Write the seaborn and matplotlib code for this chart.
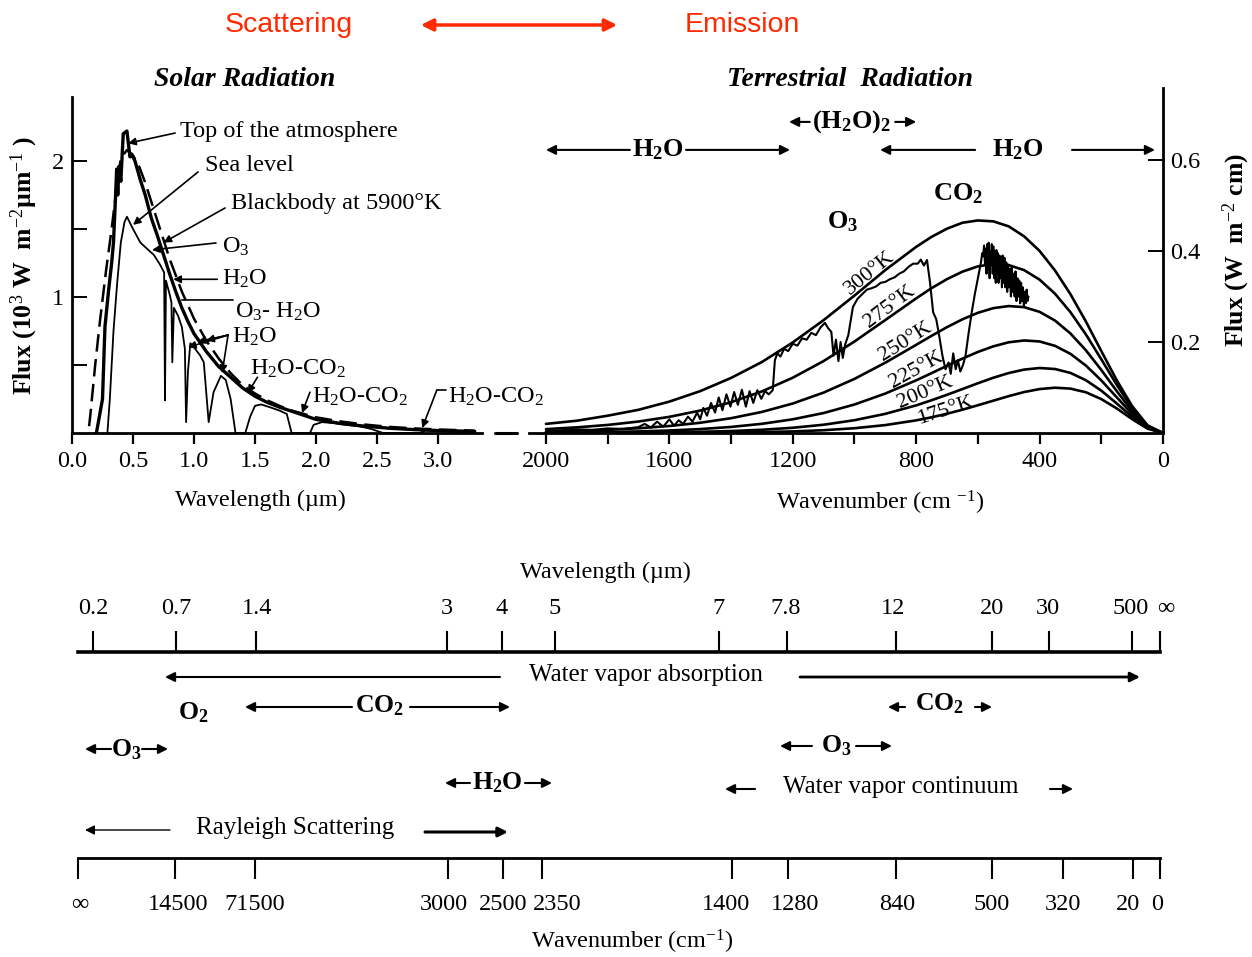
import matplotlib
matplotlib.use("Agg")
import matplotlib.pyplot as plt
import seaborn as sns
from matplotlib.patches import FancyArrowPatch
from matplotlib.ticker import FixedLocator

# ---------------- data: solar panel (wavelength in um, flux in 10^3 W m-2 um-1)
bb_wl = [0.14, 0.15, 0.19, 0.23, 0.28, 0.325, 0.365, 0.40, 0.45, 0.50, 0.55, 0.60, 0.70, 0.80, 0.90,
         1.00, 1.10, 1.20, 1.30, 1.40, 1.50, 1.60, 1.70, 1.80, 1.90, 2.00, 2.20, 2.40, 2.60, 2.80, 3.00, 3.30]
bb_flux = [0.05, 0.13, 0.50, 0.83, 1.20, 1.50, 1.80, 2.02, 2.08, 2.04, 1.96, 1.84, 1.56, 1.28, 1.04,
           0.84, 0.68, 0.55, 0.44, 0.35, 0.29, 0.24, 0.20, 0.165, 0.14, 0.115, 0.085, 0.062, 0.045, 0.034, 0.026, 0.017]

toa_wl = [0.20, 0.25, 0.27, 0.30, 0.325, 0.34, 0.355, 0.366, 0.375, 0.385, 0.40, 0.42, 0.45, 0.475,
          0.49, 0.516, 0.56, 0.60, 0.65, 0.70, 0.75, 0.80, 0.85, 0.90, 0.95, 1.00, 1.10, 1.20, 1.30,
          1.40, 1.50, 1.60, 1.70, 1.80, 1.90, 2.00, 2.20, 2.40, 2.60, 2.80, 3.00, 3.30]
toa_flux = [0.0, 0.25, 0.78, 1.05, 1.25, 1.40, 1.70, 1.94, 1.75, 1.96, 1.85, 2.20, 2.22, 2.03,
            2.05, 2.00, 1.86, 1.75, 1.58, 1.45, 1.31, 1.17, 1.04, 0.92, 0.82, 0.73, 0.60, 0.49, 0.41,
            0.33, 0.27, 0.225, 0.19, 0.16, 0.13, 0.10, 0.07, 0.05, 0.035, 0.025, 0.018, 0.012]

sea_wl = [0.29, 0.31, 0.34, 0.37, 0.40, 0.43, 0.45, 0.50, 0.56, 0.62, 0.67, 0.72, 0.755, 0.762, 0.77,
          0.80, 0.815, 0.822, 0.835, 0.87, 0.90, 0.925, 0.935, 0.95, 0.97, 1.00, 1.05, 1.08, 1.12, 1.16,
          1.22, 1.26, 1.30, 1.34, 1.42, 1.46, 1.50, 1.55, 1.62, 1.70, 1.76, 1.80, 1.95, 1.98, 2.05,
          2.15, 2.25, 2.35, 2.45, 2.55, 2.85, 2.90, 3.00, 3.20]
sea_flux = [0.0, 0.25, 0.75, 1.10, 1.40, 1.55, 1.59, 1.50, 1.40, 1.35, 1.31, 1.24, 1.18, 0.24, 1.12,
            1.02, 0.96, 0.52, 0.92, 0.86, 0.78, 0.62, 0.08, 0.45, 0.66, 0.63, 0.57, 0.52, 0.08, 0.30,
            0.42, 0.39, 0.25, 0.0, 0.0, 0.12, 0.20, 0.21, 0.19, 0.165, 0.14, 0.0, 0.0, 0.06, 0.08,
            0.072, 0.06, 0.05, 0.03, 0.0, 0.0, 0.02, 0.015, 0.005]

solar_ticks = [0.0, 0.5, 1.0, 1.5, 2.0, 2.5, 3.0]
solar_tick_labels = ["0.0", "0.5", "1.0", "1.5", "2.0", "2.5", "3.0"]

# ---------------- data: terrestrial panel (wavenumber cm-1, flux W m-2 cm)
wn_grid = [0, 50, 100, 150, 200, 250, 300, 350, 400, 450, 500, 550, 600, 650, 700, 750, 800,
           900, 1000, 1100, 1200, 1300, 1400, 1500, 1600, 1700, 1800, 1900, 2000]
bb_300 = [0, 0.0167, 0.059, 0.116, 0.180, 0.245, 0.305, 0.357, 0.400, 0.432, 0.454, 0.465, 0.467, 0.462,
          0.449, 0.431, 0.409, 0.358, 0.302, 0.248, 0.199, 0.156, 0.121, 0.092, 0.069, 0.051, 0.038, 0.027, 0.020]
bb_275 = [0, 0.0156, 0.0544, 0.1060, 0.1620, 0.2166, 0.2655, 0.3060, 0.3369, 0.3578, 0.3689, 0.3712, 0.3661,
          0.3545, 0.3381, 0.3183, 0.2958, 0.2482, 0.2010, 0.1581, 0.1215, 0.0914, 0.0676, 0.0493, 0.0355,
          0.0252, 0.0177, 0.0124, 0.0085]
bb_250 = [0, 0.0140, 0.0481, 0.0921, 0.1385, 0.1818, 0.2186, 0.2470, 0.2662, 0.2765, 0.2789, 0.2743, 0.2641,
          0.2498, 0.2326, 0.2136, 0.1937, 0.1545, 0.1189, 0.0888, 0.0648, 0.0463, 0.0325, 0.0225, 0.0154,
          0.0104, 0.0069, 0.0046, 0.0030]
bb_225 = [0, 0.0124, 0.0418, 0.0785, 0.1155, 0.1482, 0.1739, 0.1915, 0.2011, 0.2033, 0.1993, 0.1904, 0.1781,
          0.1635, 0.1477, 0.1316, 0.1157, 0.0867, 0.0626, 0.0439, 0.0301, 0.0202, 0.0133, 0.0086, 0.0055,
          0.0035, 0.0022, 0.0014, 0.0009]
bb_200 = [0, 0.0108, 0.0355, 0.0650, 0.0931, 0.1160, 0.1320, 0.1406, 0.1428, 0.1393, 0.1318, 0.1214, 0.1093,
          0.0966, 0.0840, 0.0720, 0.0607, 0.0421, 0.0281, 0.0182, 0.0115, 0.0071, 0.0043, 0.0026, 0.0015,
          0.0009, 0.0005, 0.0003, 0.0002]
bb_175 = [0, 0.0095, 0.0305, 0.0540, 0.0745, 0.0895, 0.0975, 0.0995, 0.0965, 0.0900, 0.0810, 0.0710, 0.0610,
          0.0512, 0.0424, 0.0345, 0.0278, 0.0174, 0.0105, 0.0061, 0.0035, 0.0020, 0.0010, 0.0005, 0.0003,
          0.0002, 0.0001, 0.0, 0.0]
temp_labels = ["300°K", "275°K", "250°K", "225°K", "200°K", "175°K"]

spec_wn = [2000, 1950, 1900, 1850, 1800, 1750, 1700, 1680, 1660, 1640, 1620, 1600, 1585, 1570, 1555, 1540,
           1525, 1510, 1500, 1490, 1478, 1465, 1452, 1440, 1428, 1415, 1402, 1390, 1378, 1365, 1352, 1340,
           1328, 1315, 1302, 1290, 1278, 1265, 1258, 1250, 1240, 1228, 1215, 1200, 1185, 1170, 1155, 1140,
           1125, 1110, 1096, 1085, 1075, 1068, 1060, 1052, 1045, 1038, 1030, 1020, 1005, 990, 975, 960, 945,
           930, 915, 900, 885, 870, 855, 840, 825, 810, 795, 785, 775, 765, 755, 745, 735, 725, 715, 705,
           695, 688, 680, 672, 665, 657, 648, 640, 630, 620, 610, 600,
           590, 586, 583, 580, 577, 575, 572, 570, 567, 565, 562, 560, 558, 555, 552, 550, 547, 545, 542,
           540, 537, 535, 533, 530, 527, 525, 522, 520, 517, 514, 511, 508, 505, 502, 499, 496, 493, 490,
           487, 484, 481, 478, 475, 472, 469, 466, 463, 460, 457, 454, 451, 448, 445, 442, 439, 436]
spec_flux = [0.004, 0.006, 0.008, 0.007, 0.010, 0.009, 0.013, 0.020, 0.012, 0.025, 0.014, 0.030, 0.016, 0.028,
             0.020, 0.036, 0.025, 0.045, 0.030, 0.055, 0.038, 0.066, 0.045, 0.078, 0.050, 0.085, 0.058, 0.090,
             0.062, 0.095, 0.058, 0.092, 0.066, 0.094, 0.075, 0.092, 0.085, 0.094, 0.160, 0.175, 0.168, 0.185,
             0.180, 0.196, 0.192, 0.208, 0.205, 0.220, 0.215, 0.232, 0.242, 0.230, 0.222, 0.170, 0.205, 0.158,
             0.200, 0.165, 0.195, 0.215, 0.277, 0.295, 0.305, 0.315, 0.318, 0.322, 0.330, 0.332, 0.338, 0.342,
             0.350, 0.355, 0.365, 0.372, 0.372, 0.381, 0.368, 0.380, 0.330, 0.265, 0.250, 0.212, 0.170, 0.140,
             0.155, 0.130, 0.175, 0.140, 0.160, 0.135, 0.150, 0.170, 0.220, 0.265, 0.305, 0.340,
             0.375, 0.395, 0.388, 0.412, 0.370, 0.405, 0.350, 0.415, 0.360, 0.418, 0.340, 0.400, 0.370, 0.415,
             0.350, 0.410, 0.340, 0.400, 0.330, 0.402, 0.350, 0.395, 0.330, 0.390, 0.340, 0.385, 0.320, 0.390,
             0.330, 0.385, 0.320, 0.375, 0.310, 0.370, 0.320, 0.360, 0.300, 0.365, 0.310, 0.350, 0.300, 0.355,
             0.290, 0.340, 0.300, 0.335, 0.285, 0.330, 0.290, 0.320, 0.280, 0.310, 0.285, 0.315, 0.290, 0.300]

terr_major = [2000, 1600, 1200, 800, 400, 0]
terr_minor = [1800, 1400, 1000, 600, 200]
terr_y_ticks = [0.2, 0.4, 0.6]

# ---------------- data: band schematic
wl_labels = ["0.2", "0.7", "1.4", "3", "4", "5", "7", "7.8", "12", "20", "30", "500", "∞"]
wn_labels = ["∞", "14500", "71500", "3000", "2500", "2350", "1400", "1280", "840", "500", "320", "20", "0"]

# ---------------- layout / style
sns.set_theme(style="ticks", rc={"axes.edgecolor": "black", "xtick.color": "black",
                                 "ytick.color": "black", "text.color": "black"})
plt.rcParams["font.family"] = ["Liberation Serif", "DejaVu Serif"]
plt.rcParams["mathtext.fontset"] = "custom"
plt.rcParams["mathtext.rm"] = "Liberation Serif"
plt.rcParams["mathtext.it"] = "Liberation Serif:italic"
plt.rcParams["mathtext.bf"] = "Liberation Serif:bold"

W, H = 1252, 957
fig = plt.figure(figsize=(W / 100, H / 100), dpi=100)
fig.patch.set_facecolor("white")


def box(x0, y0, x1, y1):
    return [x0 / W, 1 - y1 / H, (x1 - x0) / W, (y1 - y0) / H]


FS = 17.5
axL = fig.add_axes(box(72, 97, 482, 433))
axR = fig.add_axes(box(529, 88, 1163, 433))
axB = fig.add_axes(box(78, 652, 1160, 858))
for a in (axL, axR, axB):
    a.set_facecolor("none")

# ---------------- solar panel
sns.lineplot(x=bb_wl, y=bb_flux, ax=axL, color="black", lw=1.8, linestyle=(0, (7, 3)),
             estimator=None, sort=False)
sns.lineplot(x=toa_wl, y=toa_flux, ax=axL, color="black", lw=2.4, estimator=None, sort=False)
sns.lineplot(x=sea_wl, y=sea_flux, ax=axL, color="black", lw=1.3, estimator=None, sort=False)
axL.set_xlim(0, 3.36)
axL.set_ylim(0, 2.47)
axL.set_xlabel("")
axL.set_ylabel("")
axL.spines[["top", "right"]].set_visible(False)
axL.spines[["left", "bottom"]].set_linewidth(2.0)
axL.set_xticks(solar_ticks, labels=solar_tick_labels)
axL.set_yticks([1, 2], labels=["1", "2"])
axL.yaxis.set_minor_locator(FixedLocator([0.5, 1.5]))
axL.tick_params(axis="x", direction="out", length=8, width=1.6, labelsize=FS, pad=5)
axL.tick_params(axis="y", which="both", direction="in", length=11, width=1.4, labelsize=FS, pad=6)
axL.plot([3.47, 3.65], [0, 0], color="black", lw=2.2, clip_on=False)
axL.text(-0.117, 0.5, r"Flux (10$^{3}$ W  m$^{-2}$µm$^{-1}$ )", transform=axL.transAxes,
         rotation=90, ha="center", va="center", fontsize=18.5, fontweight="bold")
axL.text(0.4585, -0.2, "Wavelength (µm)", transform=axL.transAxes, ha="center", va="center", fontsize=FS)

ann = dict(fontsize=FS, ha="left", va="center")
arw = dict(arrowstyle="-|>", color="black", lw=1.2, mutation_scale=11, shrinkA=0, shrinkB=0)
ln = dict(arrowstyle="-", color="black", lw=1.2, shrinkA=0, shrinkB=0)
axL.text(0.885, 2.22, "Top of the atmosphere", **ann)
axL.annotate("", xy=(0.46, 2.13), xytext=(0.845, 2.205), arrowprops=arw)
axL.text(1.09, 1.97, "Sea level", **ann)
axL.annotate("", xy=(0.50, 1.53), xytext=(1.033, 1.919), arrowprops=arw)
axL.text(1.303, 1.69, "Blackbody at 5900°K", **ann)
axL.annotate("", xy=(0.75, 1.40), xytext=(1.254, 1.654), arrowprops=arw)
axL.text(1.23, 1.37, r"O$_{3}$", **ann)
axL.annotate("", xy=(0.656, 1.346), xytext=(1.18, 1.397), arrowprops=arw)
axL.text(1.23, 1.13, r"H$_{2}$O", **ann)
axL.annotate("", xy=(0.83, 1.13), xytext=(1.19, 1.13), arrowprops=arw)
axL.text(1.336, 0.89, r"O$_{3}$- H$_{2}$O", **ann)
axL.annotate("", xy=(0.90, 0.978), xytext=(1.32, 0.978), arrowprops=ln)
axL.text(1.311, 0.706, r"H$_{2}$O", **ann)
for tip in [(0.95, 0.63), (1.03, 0.67), (1.10, 0.68), (1.23, 0.44)]:
    axL.annotate("", xy=tip, xytext=(1.279, 0.72), arrowprops=arw)
axL.text(1.459, 0.47, r"H$_{2}$O-CO$_{2}$", **ann)
axL.annotate("", xy=(1.44, 0.294), xytext=(1.52, 0.41), arrowprops=arw)
axL.text(1.967, 0.265, r"H$_{2}$O-CO$_{2}$", **ann)
axL.annotate("", xy=(1.885, 0.147), xytext=(1.95, 0.30), arrowprops=arw)
axL.text(3.082, 0.265, r"H$_{2}$O-CO$_{2}$", **ann)
axL.plot([3.066, 2.99], [0.316, 0.316], color="black", lw=1.2, clip_on=False)
axL.annotate("", xy=(2.87, 0.037), xytext=(2.99, 0.316), arrowprops=arw)

# ---------------- terrestrial panel
for vals in [bb_300, bb_275, bb_250, bb_225, bb_200, bb_175]:
    sns.lineplot(x=wn_grid, y=vals, ax=axR, color="black", lw=1.9, estimator=None, sort=False)
sns.lineplot(x=spec_wn, y=spec_flux, ax=axR, color="black", lw=1.5, estimator=None, sort=False)
axR.set_xlim(2055, 0)
axR.set_ylim(0, 0.758)
axR.set_xlabel("")
axR.set_ylabel("")
axR.spines[["top", "left"]].set_visible(False)
axR.spines[["right", "bottom"]].set_linewidth(2.0)
axR.yaxis.tick_right()
axR.set_xticks(terr_major, labels=[str(v) for v in terr_major])
axR.xaxis.set_minor_locator(FixedLocator(terr_minor))
axR.set_yticks(terr_y_ticks, labels=[f"{v:.1f}" for v in terr_y_ticks])
axR.tick_params(axis="x", which="both", direction="out", length=8, width=1.6, labelsize=FS, pad=5)
axR.tick_params(axis="y", direction="in", length=11, width=1.4, labelsize=FS, pad=5)
axR.text(1.115, 0.53, r"Flux (W  m$^{-2}$ cm)", transform=axR.transAxes, rotation=90,
         ha="center", va="center", fontsize=18.5, fontweight="bold")
axR.text(0.5536, -0.203, r"Wavenumber (cm $^{-1}$)", transform=axR.transAxes, ha="center",
         va="center", fontsize=FS)

temp_pos = [(950, 0.352, 39), (885, 0.277, 37), (836, 0.200, 32), (800, 0.138, 29), (771, 0.090, 23),
            (706, 0.050, 18)]
for lab, (xw, yf, rot) in zip(temp_labels, temp_pos):
    axR.text(xw, yf, lab, fontsize=16, rotation=rot, rotation_mode="anchor", ha="center", va="center")
bold = dict(fontsize=19, fontweight="bold", ha="center", va="center")
axR.text(1037, 0.464, r"O$_{\mathbf{3}}$", **bold)
axR.text(664, 0.525, r"CO$_{\mathbf{2}}$", **bold)
arw2 = dict(arrowstyle="-|>", color="black", lw=1.5, mutation_scale=14, shrinkA=0, shrinkB=0)
axR.text(1637, 0.622, r"H$_{\mathbf{2}}$O", **bold)
axR.annotate("", xy=(2000, 0.622), xytext=(1728, 0.622), arrowprops=arw2)
axR.annotate("", xy=(1209, 0.622), xytext=(1546, 0.622), arrowprops=arw2)
axR.text(470, 0.622, r"H$_{\mathbf{2}}$O", **bold)
axR.annotate("", xy=(917, 0.622), xytext=(609, 0.622), arrowprops=arw2)
axR.annotate("", xy=(26, 0.622), xytext=(295, 0.622), arrowprops=arw2)
axR.text(1008, 0.6835, r"(H$_{\mathbf{2}}$O)$_{\mathbf{2}}$", **bold)
axR.annotate("", xy=(1212, 0.6835), xytext=(1145, 0.6835), arrowprops=arw2)
axR.annotate("", xy=(800, 0.6835), xytext=(868, 0.6835), arrowprops=arw2)

# ---------------- headings
red = "#ff2a00"
fig.text(289 / W, 1 - 25 / H, "Scattering", color=red, fontsize=20.5, family="Liberation Sans",
         ha="center", va="center")
fig.text(742 / W, 1 - 25 / H, "Emission", color=red, fontsize=20.5, family="Liberation Sans",
         ha="center", va="center")
fig.add_artist(FancyArrowPatch((418 / W, 1 - 25 / H), (620 / W, 1 - 25 / H), transform=fig.transFigure,
                               arrowstyle="<|-|>", mutation_scale=18, lw=2.5, color=red))
fig.text(245 / W, 1 - 80 / H, "Solar Radiation", fontsize=20, fontweight="bold", fontstyle="italic",
         ha="center", va="center")
fig.text(850 / W, 1 - 80 / H, "Terrestrial  Radiation", fontsize=20, fontweight="bold", fontstyle="italic",
         ha="center", va="center")

# ---------------- band schematic (x: 0..100 along the bar, y: pixel rows)
def u(px):
    return (px - 78) / 10.82


top_pos = [u(p) for p in [93, 175.5, 256, 447, 502, 555, 719, 786.5, 896, 992, 1049, 1132, 1160]]
bot_pos = [u(p) for p in [78, 175, 255.5, 448, 503, 542, 732, 787.5, 896, 992, 1063, 1133, 1159.5]]
top_lab_pos = [u(p) for p in [93, 176, 257, 447, 502, 555, 719, 786, 893, 992, 1048, 1131, 1166]]
bot_lab_pos = [u(p) for p in [80, 178, 255, 444, 503, 557, 726, 795, 897, 992, 1063, 1128, 1157]]

axB.set_xlim(0, 100)
axB.set_ylim(858, 652)
axB.spines[["left", "right"]].set_visible(False)
axB.spines["top"].set_linewidth(2.6)
axB.spines["bottom"].set_linewidth(2.0)
axB.set_xticks(bot_pos, labels=[""] * len(bot_pos))
axB.set_yticks([])
axB.tick_params(axis="x", direction="out", length=15, width=1.5, bottom=True, top=False)
axT = axB.twiny()
axT.set_xlim(0, 100)
axT.spines[["left", "right", "bottom", "top"]].set_visible(False)
axT.set_xticks(top_pos, labels=[""] * len(top_pos))
axT.tick_params(axis="x", direction="out", length=15, width=1.5, top=True, bottom=False)
for lab, x in zip(wl_labels, top_lab_pos):
    axB.text(x, 608, lab, fontsize=FS, ha="center", va="center")
for lab, x in zip(wn_labels, bot_lab_pos):
    axB.text(x, 904, lab, fontsize=FS, ha="center", va="center")
fig.text(605 / W, 1 - 572 / H, "Wavelength (µm)", fontsize=FS, ha="center", va="center")
fig.text(632 / W, 1 - 942 / H, r"Wavenumber (cm$^{-1}$)", fontsize=FS, ha="center", va="center")

sarw = dict(arrowstyle="-|>", color="black", lw=1.5, mutation_scale=14, shrinkA=0, shrinkB=0)


def barrow(x0, x1, y, lw=1.5):
    p = dict(sarw)
    p["lw"] = lw
    axB.annotate("", xy=(u(x1), y), xytext=(u(x0), y), arrowprops=p, annotation_clip=False)


reg = dict(fontsize=18, ha="center", va="center")
bld = dict(fontsize=18.5, ha="center", va="center", fontweight="bold")
axB.text(u(646), 675, "Water vapor absorption", **reg)
barrow(500, 165, 677)
barrow(800, 1140, 677, lw=2.0)
axB.text(u(193), 713, r"O$_{\mathbf{2}}$", **bld)
axB.text(u(380), 706, r"CO$_{\mathbf{2}}$", **bld)
barrow(352, 245, 707)
barrow(410, 510, 707)
axB.text(u(126), 750, r"O$_{\mathbf{3}}$", **bld)
barrow(111, 85, 749)
barrow(142, 168, 749)
axB.text(u(497), 783, r"H$_{\mathbf{2}}$O", **bld)
barrow(470, 445, 783)
barrow(525, 552, 783)
axB.text(u(295), 828, "Rayleigh Scattering", **reg)
barrow(170, 85, 830, lw=1.0)
barrow(425, 508, 832, lw=2.2)
axB.text(u(940), 704, r"CO$_{\mathbf{2}}$", **bld)
barrow(905, 888, 707)
barrow(975, 992, 707)
axB.text(u(836), 746, r"O$_{\mathbf{3}}$", **bld)
barrow(812, 780, 746)
barrow(856, 892, 746)
axB.text(u(901), 787, "Water vapor continuum", **reg)
barrow(755, 725, 789)
barrow(1050, 1073, 789)

fig.savefig("out.png", dpi=100, facecolor="white")
